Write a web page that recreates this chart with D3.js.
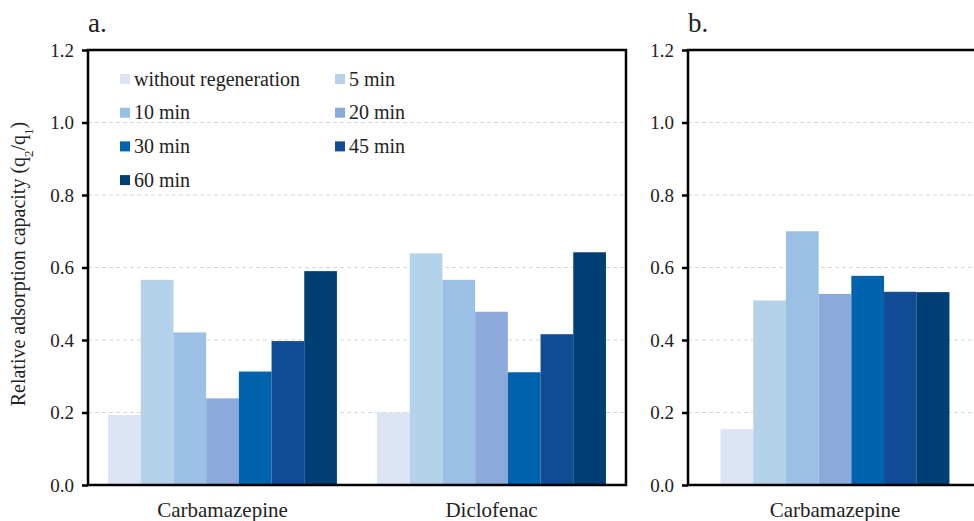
<!DOCTYPE html>
<html>
<head>
<meta charset="utf-8">
<script src="https://cdn.jsdelivr.net/npm/d3@7"></script>
<style>
  body { margin: 0; background: #fff; }
  svg text { font-family: "Liberation Serif", "Times New Roman", serif; fill: #222; }
</style>
</head>
<body>
<div id="chart"></div>
<script>
// series (regeneration time) and their colours
const series = ["without regeneration", "5 min", "10 min", "20 min", "30 min", "45 min", "60 min"];
const colors = ["#dbe3f4", "#b5d2eb", "#9bc0e5", "#8ba9da", "#0063ae", "#114b94", "#003f74"];

// panel a
const catsA = ["Carbamazepine", "Diclofenac"];
const carbamazepineA = [0.193, 0.566, 0.421, 0.239, 0.313, 0.397, 0.590];
const diclofenacA = [0.200, 0.639, 0.566, 0.478, 0.311, 0.416, 0.642];

// panel b
const catsB = ["Carbamazepine"];
const carbamazepineB = [0.154, 0.509, 0.700, 0.527, 0.577, 0.533, 0.532];

const yTicks = [0, 0.2, 0.4, 0.6, 0.8, 1.0, 1.2];

const W = 974, H = 521;
const plotTop = 50, plotBottom = 485;
const barW = 32.7;

const svg = d3.select("#chart").append("svg")
  .attr("width", W).attr("height", H);

const y = d3.scaleLinear().domain([0, 1.2]).range([plotBottom, plotTop]);

function panel(x0, x1, cats, rows, label) {
  const g = svg.append("g");
  const x = d3.scaleBand().domain(cats).range([x0, x1]).padding(0);
  const xs = d3.scaleBand().domain(series).padding(0)
    .range([x.bandwidth() / 2 - barW * series.length / 2, x.bandwidth() / 2 + barW * series.length / 2]);

  // dashed gridlines
  g.selectAll(".grid").data(yTicks.filter(t => t > 0 && t < 1.2))
    .enter().append("line")
    .attr("x1", x0).attr("x2", x1)
    .attr("y1", d => y(d)).attr("y2", d => y(d))
    .attr("stroke", "#d6d6d6").attr("stroke-width", 1)
    .attr("stroke-dasharray", "4,3");

  // bars
  cats.forEach((c, i) => {
    g.append("g").attr("transform", `translate(${x(c)},0)`)
      .selectAll("rect").data(rows[i])
      .enter().append("rect")
      .attr("x", (d, j) => xs(series[j]))
      .attr("width", xs.bandwidth())
      .attr("y", d => y(d))
      .attr("height", d => y(0) - y(d))
      .attr("fill", (d, j) => colors[j]);
  });

  // frame
  g.append("rect")
    .attr("x", x0).attr("y", plotTop)
    .attr("width", x1 - x0).attr("height", plotBottom - plotTop)
    .attr("fill", "none").attr("stroke", "#000").attr("stroke-width", 2.5);

  // y axis
  const ax = g.append("g").attr("transform", `translate(${x0},0)`)
    .call(d3.axisLeft(y).tickValues(yTicks).tickFormat(d3.format(".1f")).tickSize(6).tickPadding(8))
    .attr("font-family", "'Liberation Serif', serif");
  ax.select(".domain").remove();
  ax.selectAll(".tick line").attr("stroke", "#000").attr("stroke-width", 2.5);
  ax.selectAll(".tick text").style("font-size", "19px").attr("fill", "#333");

  // category labels
  g.selectAll(".cat").data(cats).enter().append("text")
    .attr("x", d => x(d) + x.bandwidth() / 2)
    .attr("y", 517)
    .attr("text-anchor", "middle")
    .style("font-size", "21px")
    .text(d => d);

  // panel label
  g.append("text").attr("x", x0).attr("y", 32)
    .style("font-size", "27px").text(label);
}

panel(88, 626, catsA, [carbamazepineA, diclofenacA], "a.");
panel(688, 982, catsB, [carbamazepineB], "b.");

// y axis title
const yt = svg.append("text")
  .attr("transform", "translate(25,264) rotate(-90)")
  .attr("text-anchor", "middle")
  .style("font-size", "20px");
yt.append("tspan").text("Relative adsorption capacity (q");
yt.append("tspan").attr("baseline-shift", "sub").style("font-size", "13px").text("2");
yt.append("tspan").text("/q");
yt.append("tspan").attr("baseline-shift", "sub").style("font-size", "13px").text("1");
yt.append("tspan").text(")");

// legend, two columns
const legend = svg.append("g");
const item = legend.selectAll("g").data(series).enter().append("g")
  .attr("transform", (d, i) => `translate(${i % 2 === 0 ? 120 : 335},${79 + Math.floor(i / 2) * 33.7})`);
item.append("rect").attr("x", 0).attr("y", -5).attr("width", 10).attr("height", 10)
  .attr("fill", (d, i) => colors[i]);
item.append("text").attr("x", 14).attr("y", 6.5)
  .style("font-size", "20px").text(d => d);
</script>
</body>
</html>
